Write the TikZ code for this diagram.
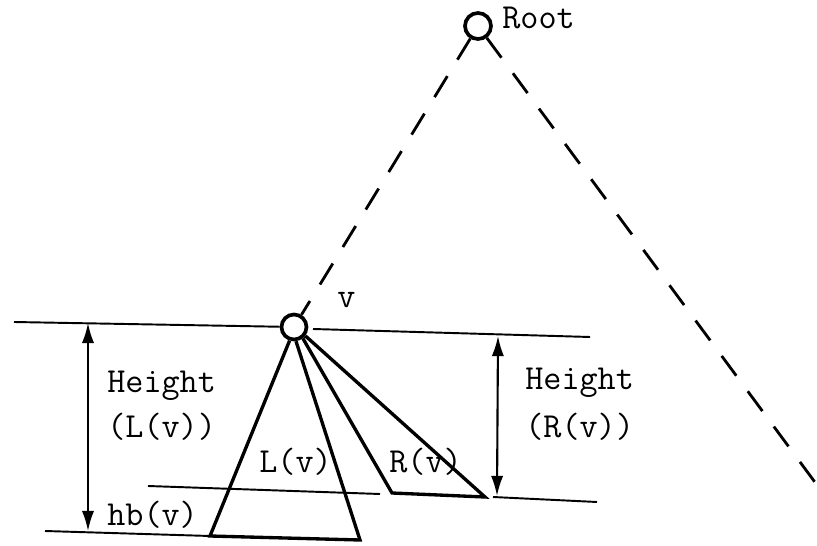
\documentclass[tikz,border=0pt]{standalone}
\usetikzlibrary{arrows.meta}
\tikzset{
  vertex/.style={circle, draw, line width=2.1pt, inner sep=0pt},
  lab/.style={anchor=base west, inner sep=0pt, font=\ttfamily\fontsize{20}{24}\selectfont},
  guide/.style={line width=1.1pt},
  tree/.style={line width=1.9pt, line join=miter},
  dim/.style={line width=1.2pt, {Latex[length=11.5pt,width=7pt]}-{Latex[length=11.5pt,width=7pt]}},
  treepath/.style={line width=1.6pt, dash pattern=on 14pt off 11pt},
}
\begin{document}
\begin{tikzpicture}[x=0.02cm, y=-0.02cm]
  \useasboundingbox (0,0) rectangle (817,546);

  % vertices
  \node[vertex, minimum size=0.52cm] (root) at (478,26) {};
  \node[vertex, minimum size=0.5cm] (v) at (294,327) {};
  \coordinate (far) at (817,485);

  % horizontal guides
  \coordinate (t1) at (14,322);
  \coordinate (t2) at (313,329);
  \coordinate (t3) at (590,337);
  \coordinate (m1) at (148,486);
  \coordinate (m2) at (380,494);
  \coordinate (b1) at (45,531);
  \coordinate (b2) at (493,497);
  \coordinate (b3) at (597,502);

  % subtrees
  \coordinate (L1) at (210,536);
  \coordinate (L2) at (360,540);
  \coordinate (R1) at (392,493);
  \coordinate (R2) at (485,497);

  % height arrows
  \coordinate (ha) at (88,323);
  \coordinate (hb) at (88,531);
  \coordinate (hc) at (498,336);
  \coordinate (hd) at (497,496);

  \draw[treepath] (root) -- (v) (root) -- (far);
  \draw[guide] (t1) -- (v) (t2) -- (t3) (m1) -- (m2) (b1) -- (L1) (b2) -- (b3);
  \draw[tree] (v.-108) -- (L1) -- (L2) -- (v.-82);
  \draw[tree] (v.-52) -- (R1) -- (R2) -- (v.-38);
  \draw[dim] (ha) -- (hb);
  \draw[dim] (hc) -- (hd);

  \node[lab] (rootlab) at (502,29)  {Root};
  \node[lab] (vlab)    at (337,308) {v};
  \node[lab] (hl1)     at (107,393) {Height};
  \node[lab] (hl2)     at (107,438) {(L(v))};
  \node[lab] (ltext)   at (259,472) {L(v)};
  \node[lab] (rtext)   at (389,472) {R(v)};
  \node[lab] (hr1)     at (525,390) {Height};
  \node[lab] (hr2)     at (525,438) {(R(v))};
  \node[lab] (hbtext)  at (107,525) {hb(v)};
\end{tikzpicture}
\end{document}
